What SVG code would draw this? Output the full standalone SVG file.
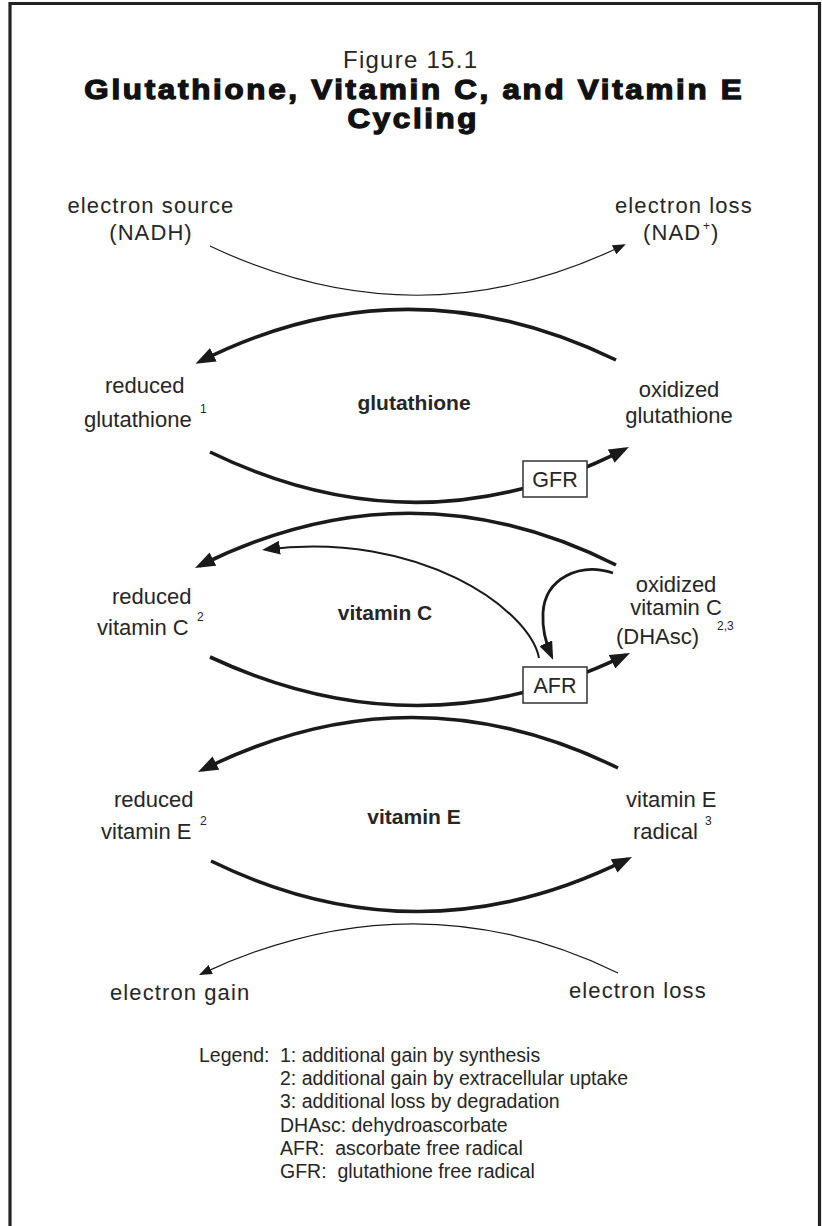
<svg xmlns="http://www.w3.org/2000/svg" width="822" height="1226" viewBox="0 0 822 1226">
<style>
text{font-family:"Liberation Sans",Arial,sans-serif;fill:#262626}
.lb{font-size:22px}
.el{font-size:22px;letter-spacing:1.1px}
.bd{font-size:21px;font-weight:bold}
.sp{font-size:12px}
.lg{font-size:19.5px}
.c{text-anchor:middle}
.tt{font-size:28px;font-weight:bold;fill:#111;stroke:#111;stroke-width:1.3px;text-anchor:middle}
.thick{fill:none;stroke:#1a1a1a;stroke-width:3.6}
.thin{fill:none;stroke:#1a1a1a;stroke-width:1.2}
.box{fill:#fff;stroke:#333;stroke-width:1.5}
</style>
<defs>
<marker id="big" markerUnits="userSpaceOnUse" markerWidth="20" markerHeight="15" refX="15" refY="7.5" orient="auto"><path d="M0,0 L20,7.5 L0,15 z" fill="#1a1a1a"/></marker>
<marker id="mid" markerUnits="userSpaceOnUse" markerWidth="18" markerHeight="14" refX="14" refY="7" orient="auto"><path d="M0,0 L18,7 L0,14 z" fill="#1a1a1a"/></marker>
<marker id="sm" markerUnits="userSpaceOnUse" markerWidth="13" markerHeight="10" refX="11" refY="5" orient="auto"><path d="M0,0 L13,5 L0,10 z" fill="#1a1a1a"/></marker>
</defs>
<rect width="822" height="1226" fill="#fff"/>
<path d="M10,1226 V3.5 H819.5 V1226" fill="none" stroke="#222" stroke-width="3.2"/>
<g id="title">
<text class="c" x="410" y="68" font-size="24" textLength="134" lengthAdjust="spacing">Figure 15.1</text>
<text class="tt" transform="translate(413,99) scale(1.12,1)" x="0" y="0" textLength="587" lengthAdjust="spacing">Glutathione, Vitamin C, and Vitamin E</text>
<text class="tt" transform="translate(412,128) scale(1.12,1)" x="0" y="0" textLength="115" lengthAdjust="spacing">Cycling</text>
</g>
<g id="connectors">
<path class="thin" d="M210,246 Q418,345 624,245" marker-end="url(#sm)"/>
<path class="thick" d="M616,360 Q405,258 200,361.5" marker-end="url(#big)"/>
<path class="thick" d="M210,452 Q420,554 624.5,449.3" marker-end="url(#big)"/>
<path class="thick" d="M616,565 Q410,461 199.5,565.8" marker-end="url(#big)"/>
<path fill="none" stroke="#1a1a1a" stroke-width="2" d="M539,658 C530,610 420,530 266,549.4" marker-end="url(#mid)"/>
<path fill="none" stroke="#1a1a1a" stroke-width="2.8" d="M613,573 C580,562 545,578 543,613 C542,632 547,646 551.5,656" marker-end="url(#mid)"/>
<path class="thick" d="M210,657 Q420,755 625.5,655.2" marker-end="url(#big)"/>
<path class="thick" d="M618,768 Q410,666 202.5,769.8" marker-end="url(#big)"/>
<path class="thick" d="M211,861 Q420,963 627.5,859.2" marker-end="url(#big)"/>
<path class="thin" d="M618,973 Q414,874 200.8,974.1" marker-end="url(#sm)"/>
</g>
<g id="electron-source">
<text class="el c" x="151" y="213">electron source</text>
<text class="el c" x="151" y="240">(NADH)</text>
</g>
<g id="electron-loss-top">
<text class="el" x="615" y="213">electron loss</text>
<text class="el" x="643" y="240">(NAD</text>
<text class="sp" x="703" y="230">+</text>
<text class="el" x="711" y="240">)</text>
</g>
<g id="reduced-glutathione">
<text class="lb" x="105" y="393">reduced</text>
<text class="lb" x="84" y="427">glutathione</text>
<text class="sp" x="200" y="413">1</text>
</g>
<g id="glutathione">
<text class="bd c" x="414" y="410">glutathione</text>
</g>
<g id="oxidized-glutathione">
<text class="lb c" x="679" y="397">oxidized</text>
<text class="lb c" x="679" y="423">glutathione</text>
</g>
<g id="GFR">
<rect class="box" x="523" y="461" width="64" height="36"/>
<text class="c" x="555" y="487" font-size="21.5">GFR</text>
</g>
<g id="reduced-vitamin-c">
<text class="lb" x="112" y="604">reduced</text>
<text class="lb" x="97" y="635">vitamin C</text>
<text class="sp" x="197" y="621">2</text>
</g>
<g id="vitamin-c">
<text class="bd c" x="385" y="620">vitamin C</text>
</g>
<g id="oxidized-vitamin-c">
<text class="lb c" x="676" y="592">oxidized</text>
<text class="lb c" x="676" y="615">vitamin C</text>
<text class="lb" x="616" y="644">(DHAsc)</text>
<text class="sp" x="717" y="630">2,3</text>
</g>
<g id="AFR">
<rect class="box" x="523" y="667" width="64" height="36"/>
<text class="c" x="555" y="693" font-size="21.5">AFR</text>
</g>
<g id="reduced-vitamin-e">
<text class="lb" x="114" y="807">reduced</text>
<text class="lb" x="101" y="839">vitamin E</text>
<text class="sp" x="200" y="825">2</text>
</g>
<g id="vitamin-e">
<text class="bd c" x="414" y="824">vitamin E</text>
</g>
<g id="vitamin-e-radical">
<text class="lb" x="626" y="807">vitamin E</text>
<text class="lb" x="633" y="839">radical</text>
<text class="sp" x="705" y="825">3</text>
</g>
<g id="electron-gain">
<text class="el" x="110" y="1000">electron gain</text>
</g>
<g id="electron-loss-bottom">
<text class="el" x="569" y="998">electron loss</text>
</g>
<g id="legend">
<text class="lg" x="199" y="1062">Legend:</text>
<text class="lg" x="280" y="1062">1: additional gain by synthesis</text>
<text class="lg" x="280" y="1085">2: additional gain by extracellular uptake</text>
<text class="lg" x="280" y="1108">3: additional loss by degradation</text>
<text class="lg" x="280" y="1132">DHAsc: dehydroascorbate</text>
<text class="lg" x="280" y="1155">AFR:&#160; ascorbate free radical</text>
<text class="lg" x="280" y="1178">GFR:&#160; glutathione free radical</text>
</g>
</svg>
